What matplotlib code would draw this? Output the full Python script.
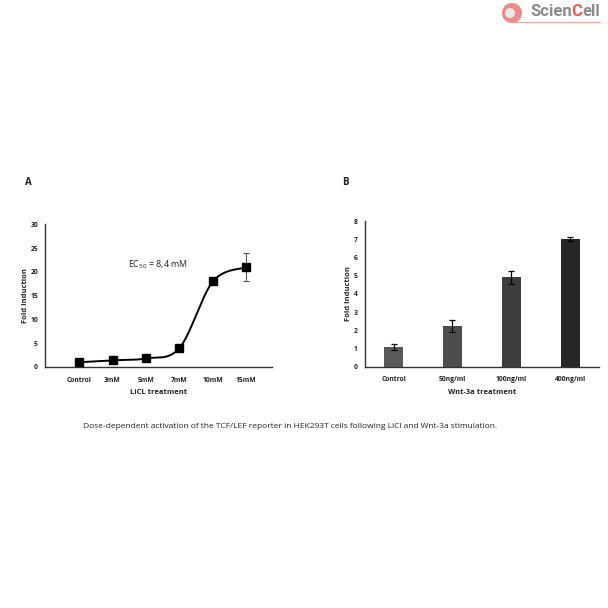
import numpy as np
import matplotlib
matplotlib.use('Agg')
import matplotlib.pyplot as plt
from matplotlib.patches import Circle

plt.rcParams['font.family'] = ['Open Sans', 'DejaVu Sans']
plt.rcParams['mathtext.default'] = 'regular'

# Panel A: LiCl dose response
licl_labels = ['Control', '3mM', '5mM', '7mM', '10mM', '15mM']
licl_fold = [1.0, 1.4, 1.8, 4.0, 18.0, 21.0]
licl_err = [0, 0, 0, 0, 0, 3.0]

# Panel B: Wnt-3a dose response
wnt_labels = ['Control', '50ng/ml', '100ng/ml', '400ng/ml']
wnt_fold = [1.07, 2.22, 4.9, 7.0]
wnt_err = [0.17, 0.33, 0.38, 0.1]
wnt_colors = ['#595959', '#4d4d4d', '#3d3d3d', '#262626']

caption = ('Dose-dependent activation of the TCF/LEF reporter in HEK293T cells '
           'following LiCl and Wnt-3a stimulation.')

text_col = '#222222'
axis_col = '#333333'


def smooth_line(xs, ys, n=40):
    # Catmull-Rom spline like the Excel "smoothed line" option
    pts = np.column_stack([xs, ys]).astype(float)
    pts = np.vstack([pts[0], pts, pts[-1]])
    out = []
    for i in range(1, len(pts) - 2):
        p0, p1, p2, p3 = pts[i - 1], pts[i], pts[i + 1], pts[i + 2]
        t = np.linspace(0, 1, n)[:, None]
        seg = 0.5 * ((2 * p1) + (-p0 + p2) * t + (2 * p0 - 5 * p1 + 4 * p2 - p3) * t ** 2
                     + (-p0 + 3 * p1 - 3 * p2 + p3) * t ** 3)
        out.append(seg)
    out = np.vstack(out)
    return out[:, 0], out[:, 1]


def style_axes(ax):
    for s in ['top', 'right']:
        ax.spines[s].set_visible(False)
    for s in ['left', 'bottom']:
        ax.spines[s].set_color(axis_col)
        ax.spines[s].set_linewidth(1.0)
    ax.tick_params(axis='both', length=0, labelsize=4.9, labelcolor=text_col)
    ax.tick_params(axis='x', pad=7)
    ax.tick_params(axis='y', pad=5)
    for lab in ax.get_xticklabels() + ax.get_yticklabels():
        lab.set_fontweight('bold')


fig = plt.figure(figsize=(6.08, 6.08), dpi=100)

# ---- Panel A
axA = fig.add_axes([0.074, 0.3964, 0.373, 0.2344])
x = np.arange(len(licl_fold))
sx, sy = smooth_line(x, licl_fold)
axA.plot(sx, sy, color='black', lw=1.4, zorder=2)
axA.errorbar(x, licl_fold, yerr=licl_err, fmt='none', ecolor='#555555',
             elinewidth=0.8, capsize=2, capthick=0.8, zorder=3)
axA.plot(x, licl_fold, 's', color='black', ms=6, zorder=4)
axA.set_xlim(-1.02, 5.76)
axA.set_ylim(0, 30)
axA.set_yticks([0, 5, 10, 15, 20, 25, 30])
axA.set_xticks(x)
axA.set_xticklabels(licl_labels)
axA.set_ylabel('Fold Induction', fontsize=5.4, fontweight='bold', color=text_col, labelpad=1)
axA.set_xlabel('LiCL treatment', fontsize=5.4, fontweight='bold', color=text_col, labelpad=4)
style_axes(axA)
axA.text(2.35, 21.5, 'EC$_{50}$ = 8,4 mM', fontsize=6.4, color=text_col, ha='center', va='center')

# ---- Panel B
axB = fig.add_axes([0.5998, 0.3969, 0.3854, 0.2396])
xb = np.arange(len(wnt_fold))
axB.bar(xb, wnt_fold, width=0.32, color=wnt_colors, zorder=2)
axB.errorbar(xb, wnt_fold, yerr=wnt_err, fmt='none', ecolor='black',
             elinewidth=0.9, capsize=2, capthick=0.9, zorder=3)
axB.set_xlim(-0.49, 3.49)
axB.set_ylim(0, 8)
axB.set_yticks(range(0, 9))
axB.set_xticks(xb)
axB.set_xticklabels(wnt_labels)
axB.set_ylabel('Fold Induction', fontsize=5.4, fontweight='bold', color=text_col, labelpad=1.5)
axB.set_xlabel('Wnt-3a treatment', fontsize=5.4, fontweight='bold', color=text_col, labelpad=4)
style_axes(axB)

# panel letters and caption
fig.text(28 / 608, 1 - 182 / 608, 'A', fontsize=7, fontweight='bold', color=text_col, ha='center', va='center')
fig.text(345 / 608, 1 - 182 / 608, 'B', fontsize=7, fontweight='bold', color=text_col, ha='center', va='center')
fig.text(83 / 608, 1 - 427 / 608, caption, fontsize=6.05, color=text_col, ha='left', va='center')

# logo in the top right corner
fig.patches.append(Circle((512 / 608, 1 - 13 / 608), 10 / 608, transform=fig.transFigure,
                          facecolor='#f08a8a', edgecolor='none'))
fig.patches.append(Circle((510 / 608, 1 - 13 / 608), 5 / 608, transform=fig.transFigure,
                          facecolor='#e8e8e8', edgecolor='none'))
renderer = fig.canvas.get_renderer()
logo_x = 530
for part, col in [('Scien', '#8a8a8a'), ('C', '#e05a5a'), ('ell', '#8a8a8a')]:
    t = fig.text(logo_x / 608, 1 - 12 / 608, part, fontsize=12, fontweight='bold', color=col,
                 ha='left', va='center', family=['Roboto', 'DejaVu Sans'])
    logo_x += t.get_window_extent(renderer).width
fig.add_artist(plt.Line2D([512 / 608, 600 / 608], [1 - 22 / 608, 1 - 22 / 608],
                          transform=fig.transFigure, color='#f3a5a5', lw=0.8))

fig.savefig('out.png', dpi=100, facecolor='white')
